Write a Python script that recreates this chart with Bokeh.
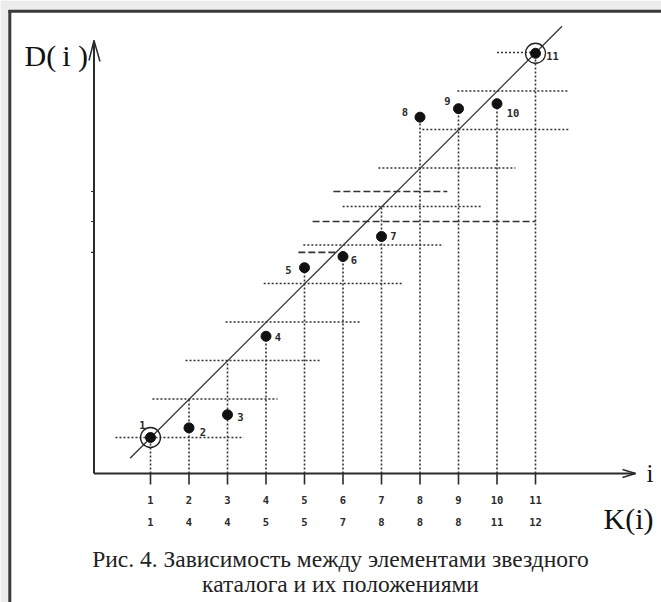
from bokeh.plotting import figure
from bokeh.models import Range1d
from bokeh.core.properties import value
from bokeh.embed import file_html
from bokeh.resources import INLINE

# ---------------- data ----------------
I_VALUES = [1, 2, 3, 4, 5, 6, 7, 8, 9, 10, 11]
D_VALUES = [1.0, 1.25, 1.59, 3.63, 5.41, 5.70, 6.22, 9.32, 9.54, 9.67, 10.98]
K_VALUES = [1, 4, 4, 5, 5, 7, 8, 8, 8, 11, 12]
POINT_LABELS = ["1", "2", "3", "4", "5", "6", "7", "8", "9", "10", "11"]
CIRCLED_I = [1, 11]
CIRCLED_D = [1.0, 10.98]
LINE_I = [0.47, 11.69]
LINE_D = [0.46, 11.68]

DOT_LEVEL = [1, 2, 3, 4, 5, 6, 7, 8, 9, 10, 11]
DOT_FROM = [0.09, 1.05, 1.91, 2.95, 3.94, 4.97, 5.99, 6.92, 8.06, 8.97, 10.0]
DOT_TO = [3.42, 4.30, 5.42, 6.45, 7.57, 8.61, 9.62, 10.48, 11.9, 11.83, 11.0]
DASH_LEVEL = [5.81, 6.61, 7.39]
DASH_FROM = [4.84, 5.21, 5.75]
DASH_TO = [5.86, 11.0, 8.71]
DROP_TOP = [1.0, 2.0, 3.0, 3.63, 5.41, 5.70, 7.0, 9.32, 9.54, 9.67, 10.98]

CAPTION_1 = "Рис. 4. Зависимость между элементами звездного"
CAPTION_2 = "каталога и их положениями"

# ---------------- layout ----------------
PX = 38.5          # pixels per data unit
W, H = 661, 602
X0 = -111.5 / PX
Y1 = 475.5 / PX


def px_x(page_x):
    return X0 + page_x / PX


def px_y(page_y):
    return Y1 - page_y / PX


LABEL_DX = [-8, 14, 13, 12, -16, 11, 12, -15, -11, 16, 17]
LABEL_DY = [-13, 4, 2, 1, 2, 3, -1, -5, -8, 9, 3]

SERIF = value("Liberation Serif")
MONO = value("DejaVu Sans Mono")
INK = "#2b2b2b"
DOT_COL = "#333333"

p = figure(width=W, height=H,
           x_range=Range1d(X0, X0 + W / PX), y_range=Range1d(Y1 - H / PX, Y1),
           x_axis_type=None, y_axis_type=None, min_border=0,
           toolbar_location=None, output_backend="svg")
p.outline_line_color = None
p.background_fill_color = "white"
p.border_fill_color = "white"

# page tint outside the frame
p.quad(left=[px_x(0), px_x(0)], right=[px_x(8), px_x(661)],
       top=[px_y(0), px_y(0)], bottom=[px_y(602), px_y(9.5)],
       fill_color="#ececec", line_color=None)

# frame (left and top edges)
p.segment(x0=[px_x(9.3), px_x(8)], y0=[px_y(602), px_y(10.8)],
          x1=[px_x(9.3), px_x(661)], y1=[px_y(9.5), px_y(10.8)],
          line_color="#3a3a3a", line_width=3)

AX_X = px_x(93.5)
AX_Y = px_y(473)

# dotted and dashed guides
p.segment(x0=DOT_FROM, y0=DOT_LEVEL, x1=DOT_TO, y1=DOT_LEVEL,
          line_color=DOT_COL, line_width=1.6, line_dash="2 2")
p.segment(x0=DASH_FROM, y0=DASH_LEVEL, x1=DASH_TO, y1=DASH_LEVEL,
          line_color=DOT_COL, line_width=1.7, line_dash="7 3")
p.segment(x0=I_VALUES, y0=[AX_Y] * len(I_VALUES), x1=I_VALUES, y1=DROP_TOP,
          line_color=DOT_COL, line_width=1.6, line_dash="2 2")

# axes
p.segment(x0=[AX_X, AX_X], y0=[AX_Y, AX_Y], x1=[AX_X, px_x(635)], y1=[px_y(40), AX_Y],
          line_color=INK, line_width=2)
p.multi_line(xs=[[px_x(88.5), AX_X, px_x(99.5)], [px_x(622), px_x(635), px_x(622)]],
             ys=[[px_y(60), px_y(40), px_y(61)], [px_y(469), AX_Y, px_y(477)]],
             line_color=INK, line_width=1.5)

# x ticks and y ticks
p.segment(x0=I_VALUES, y0=[AX_Y] * len(I_VALUES), x1=I_VALUES, y1=[px_y(484)] * len(I_VALUES),
          line_color=INK, line_width=1.6)
p.segment(x0=[px_x(90.5)] * len(DASH_LEVEL), y0=DASH_LEVEL, x1=[AX_X] * len(DASH_LEVEL), y1=DASH_LEVEL,
          line_color=INK, line_width=1.2)

# tick labels (two rows: i and K(i))
p.text(x=I_VALUES, y=[px_y(499)] * len(I_VALUES), text=[str(v) for v in I_VALUES],
       text_align="center", text_baseline="middle", text_font=MONO, text_font_style="bold",
       text_font_size=value("10.5px"), text_color="#2a2a2a")
p.text(x=I_VALUES, y=[px_y(521)] * len(I_VALUES), text=[str(v) for v in K_VALUES],
       text_align="center", text_baseline="middle", text_font=MONO, text_font_style="bold",
       text_font_size=value("10.5px"), text_color="#2a2a2a")

# regression line
p.line(LINE_I, LINE_D, line_color="#333333", line_width=1.3)

# points
p.scatter(I_VALUES, D_VALUES, size=10, fill_color="#111111", line_color="#111111")
p.scatter(CIRCLED_I, CIRCLED_D, size=20, fill_color=None, line_color="#222222", line_width=1.3)
p.text(x=I_VALUES, y=D_VALUES, text=POINT_LABELS, x_offset=LABEL_DX, y_offset=LABEL_DY,
       text_align="center", text_baseline="middle", text_font=MONO, text_font_style="bold",
       text_font_size=value("10.5px"), text_color="#2a2a2a")

# axis names
p.text(x=[px_x(24)], y=[px_y(55)], text=["D(\u2009i )"], text_align="left", text_baseline="middle",
       text_font=SERIF, text_font_size=value("30px"), text_color="#111111")
p.text(x=[px_x(649.5)], y=[px_y(473)], text=["i"], text_align="center", text_baseline="middle",
       text_font=SERIF, text_font_size=value("25px"), text_color="#111111")
p.text(x=[px_x(628)], y=[px_y(518)], text=["K(i)"], text_align="center", text_baseline="middle",
       text_font=SERIF, text_font_size=value("30px"), text_color="#111111")

# caption
p.text(x=[px_x(340), px_x(340)], y=[px_y(558), px_y(583)], text=[CAPTION_1, CAPTION_2],
       text_align="center", text_baseline="alphabetic", text_font=SERIF,
       text_font_size=value("23.5px"), text_color="#222222")

open("out.html", "w").write(file_html(p, INLINE))
